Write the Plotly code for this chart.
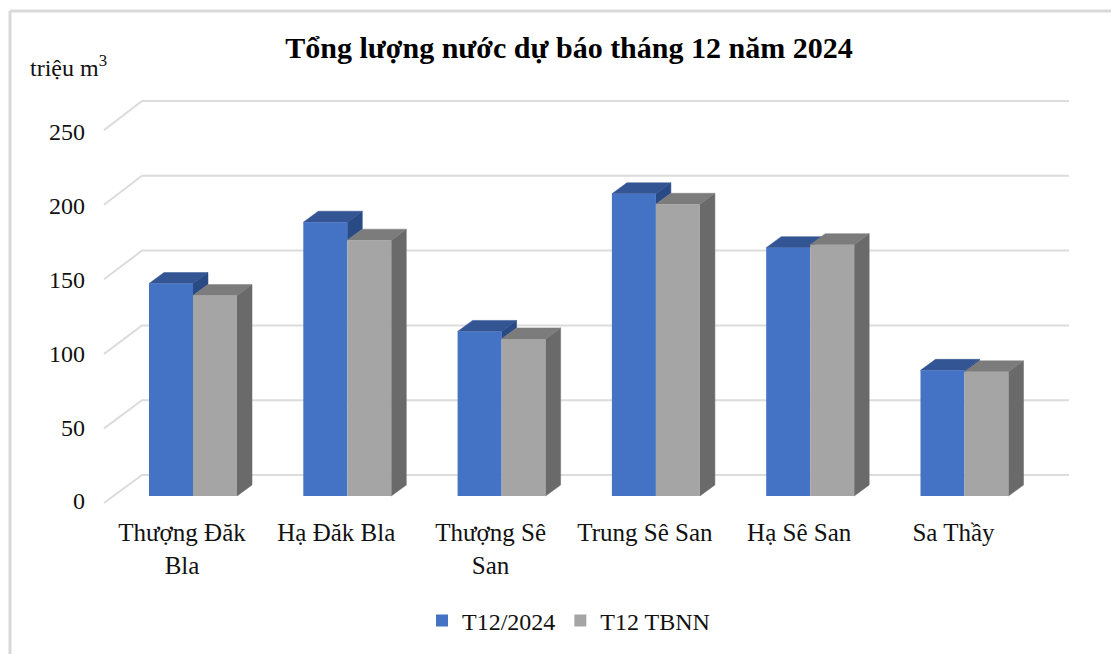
import plotly.graph_objects as go

categories = ["Thượng Đăk<br>Bla", "Hạ Đăk Bla", "Thượng Sê<br>San", "Trung Sê San", "Hạ Sê San", "Sa Thầy"]
t12_2024 = [142, 183, 110, 202, 166, 84]
t12_tbnn = [134, 171, 105, 195, 168, 83]
ticks = [0, 50, 100, 150, 200, 250]

W, H = 1119, 654
PAGE = 8  # the page's own margin
L, R, T, B = 90, 1089, 60, 510
CAT0, CATW = 193.0, 154.3
BASE, SCALE = 496.0, 1.496
LBASE, LSCALE = 501.0, 1.476
SERIF = "Liberation Serif"

px_x = lambda p: (p - CAT0) / CATW
dx_bar, dy_bar = 15 / CATW, 11 / SCALE
bar_w = 44 / CATW
wall_left_back, wall_left_front = px_x(142), px_x(104)
wall_right = px_x(1069)
wall_back_up, wall_front_down = 21 / SCALE, 7 / SCALE

x_range = [px_x(L), px_x(R)]
y_range = [(BASE - B) / SCALE, (BASE - T) / SCALE]
y3_range = [(LBASE - B) / LSCALE, (LBASE - T) / LSCALE]
idx = list(range(len(categories)))

fig = go.Figure()

# back wall and left wall gridlines
gx, gy = [], []
for v in ticks:
    gx += [wall_left_front, wall_left_back, wall_right, None]
    gy += [v * 0.997 - wall_front_down, v + wall_back_up, v + wall_back_up, None]
fig.add_trace(go.Scatter(x=gx, y=gy, mode="lines", line=dict(color="#dcdcdc", width=2),
                         hoverinfo="skip", showlegend=False))

def faces(values, x_left, x_right, cover, side_col, top_col):
    sx, sy, tx, ty = [], [], [], []
    for i, v in enumerate(values):
        a, b = i + x_left, i + x_right
        low = cover[i] if cover is not None else 0
        if low < v:
            sx += [b, b + dx_bar, b + dx_bar, b, b, None]
            sy += [v, v + dy_bar, low + dy_bar, low, v, None]
        tx += [a, a + dx_bar, b + dx_bar, b, a, None]
        ty += [v, v + dy_bar, v + dy_bar, v, v, None]
    for xs, ys, c in ((sx, sy, side_col), (tx, ty, top_col)):
        fig.add_trace(go.Scatter(x=xs, y=ys, mode="lines", fill="toself", fillcolor=c,
                                 line=dict(color=c, width=0.5), hoverinfo="skip", showlegend=False))

faces(t12_2024, -bar_w, 0, t12_tbnn, "#2a4a85", "#335593")
faces(t12_tbnn, 0, bar_w, None, "#6a6a6a", "#7c7c7c")

fig.add_trace(go.Bar(x=idx, y=t12_2024, name="T12/2024", marker=dict(color="#4472C4", line_width=0),
                     yaxis="y2", offsetgroup="a"))
fig.add_trace(go.Bar(x=idx, y=t12_tbnn, name="T12 TBNN", marker=dict(color="#A5A5A5", line_width=0),
                     yaxis="y2", offsetgroup="b"))
fig.add_trace(go.Scatter(x=[0], y=[0], mode="markers", marker_opacity=0, yaxis="y3",
                         showlegend=False, hoverinfo="skip"))

x_font = dict(family=SERIF, size=25, color="#111111")
y_font = dict(family=SERIF, size=24, color="#111111")
hidden_y = dict(range=y_range, showgrid=False, zeroline=False, showticklabels=False, ticks="", showline=False)
fig.update_layout(
    width=W - PAGE, height=H - PAGE,
    margin=dict(l=L - PAGE, r=W - R, t=T - PAGE, b=H - B, autoexpand=False),
    paper_bgcolor="white", plot_bgcolor="white",
    barmode="group", bargap=1 - 2 * bar_w, bargroupgap=0,
    title=dict(text="<b>Tổng lượng nước dự báo tháng 12 năm 2024</b>", x=(569 - PAGE) / (W - PAGE), xanchor="center",
               y=1 - (47 - PAGE) / (H - PAGE), yanchor="middle", font=dict(family=SERIF, size=30, color="#000000")),
    xaxis=dict(range=x_range, tickmode="array", tickvals=idx, ticktext=categories, showgrid=False,
               zeroline=False, showline=False, ticks="", tickfont=x_font, ticklabelshift=-11,
               ticklabelstandoff=5),
    yaxis=hidden_y,
    yaxis2=dict(hidden_y, overlaying="y"),
    yaxis3=dict(range=y3_range, overlaying="y", side="left", tickmode="array", tickvals=ticks,
                showgrid=False, zeroline=False, showline=False, ticks="", tickfont=y_font,
                ticklabelstandoff=4),
    legend=dict(orientation="h", x=(422 - PAGE) / (W - PAGE), xanchor="left", y=1 - (621 - PAGE) / (H - PAGE), yanchor="middle",
                xref="container", yref="container", font=dict(family=SERIF, size=24, color="#111111"),
                bgcolor="rgba(0,0,0,0)", traceorder="normal"),
    annotations=[dict(text="triệu m<sup>3</sup>", xref="paper", yref="paper", x=(28 - L) / (R - L),
                      y=1 - (66 - T) / (B - T), xanchor="left", yanchor="middle", showarrow=False,
                      font=dict(family=SERIF, size=24, color="#111111"))],
    shapes=[
        dict(type="line", xref="paper", yref="paper", x0=(10 - L) / (R - L), x1=(10 - L) / (R - L),
             y0=1 - (H - T) / (B - T), y1=1 - (11 - T) / (B - T), line=dict(color="#d9d9d9", width=3)),
        dict(type="line", xref="paper", yref="paper", x0=(10 - L) / (R - L), x1=(W - L) / (R - L),
             y0=1 - (11 - T) / (B - T), y1=1 - (11 - T) / (B - T), line=dict(color="#d9d9d9", width=3)),
    ],
)
fig.write_html("out.html")
